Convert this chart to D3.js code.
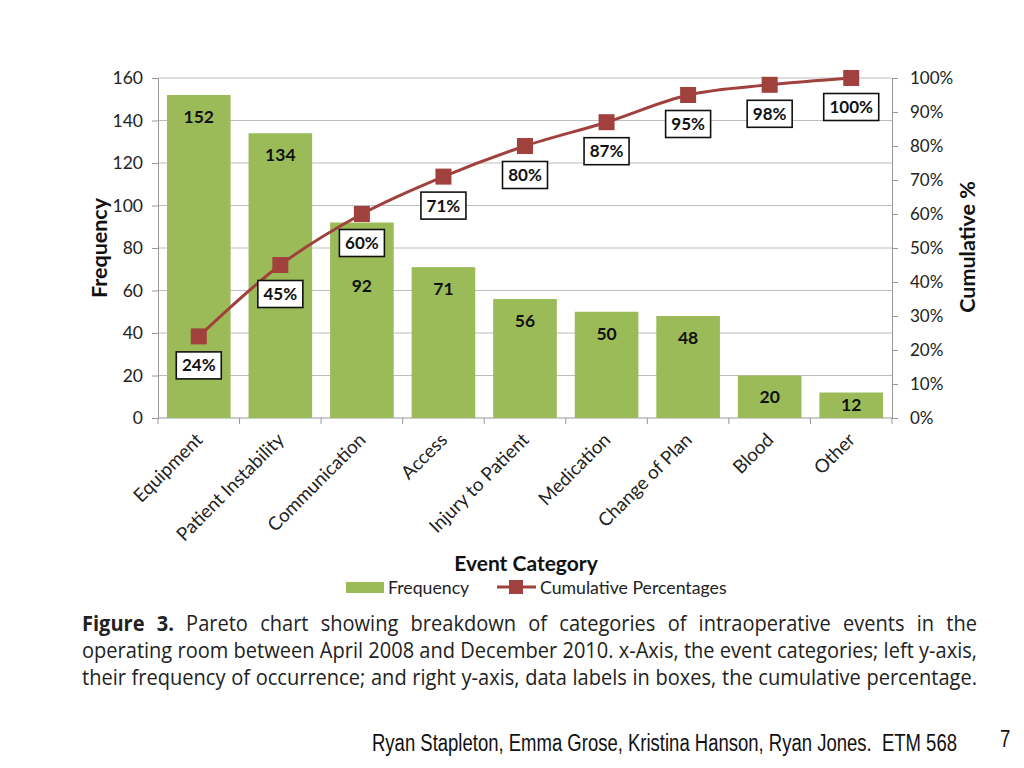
<!DOCTYPE html>
<html><head><meta charset="utf-8">
<script src="https://cdn.jsdelivr.net/npm/d3@7"></script>
<style>
body{margin:0;background:#fff;width:1024px;height:768px;overflow:hidden;}
svg{position:absolute;left:0;top:0;}
</style></head>
<body>
<svg id="c" width="1024" height="768"></svg>
<script>
const categories = ["Equipment","Patient Instability","Communication","Access","Injury to Patient","Medication","Change of Plan","Blood","Other"];
const frequency = [152,134,92,71,56,50,48,20,12];
const cumulative = [24,45,60,71,80,87,95,98,100];
const leftTicks = [0,20,40,60,80,100,120,140,160];
const rightTicks = [0,10,20,30,40,50,60,70,80,90,100];
const captionLines = [
  "Figure 3. Pareto chart showing breakdown of categories of intraoperative events in the",
  "operating room between April 2008 and December 2010. x-Axis, the event categories; left y-axis,",
  "their frequency of occurrence; and right y-axis, data labels in boxes, the cumulative percentage."
];
const footerText = "Ryan Stapleton, Emma Grose, Kristina Hanson, Ryan Jones.  ETM 568";
const pageNumber = "7";

const svg = d3.select("#c");
const L = 158, R = 892, T = 78, B = 418;
const chartFont = "Lato, 'Open Sans', sans-serif";
const x = d3.scaleBand().domain(categories).range([L, R]).paddingInner(0.22).paddingOuter(0.11);
const y = d3.scaleLinear().domain([0,160]).range([B, T]);
const y2 = d3.scaleLinear().domain([0,100]).range([B, T]);
const green = "#9bbb59", red = "#a0413d";

// gridlines
svg.append("g").selectAll("line").data(leftTicks.filter(d=>d>0)).join("line")
  .attr("x1", L).attr("x2", R).attr("y1", d=>y(d)).attr("y2", d=>y(d))
  .attr("stroke", "#bdbdbd").attr("stroke-width", 1.2);

// left axis
const gl = svg.append("g").attr("transform", `translate(${L},0)`)
  .call(d3.axisLeft(y).tickValues(leftTicks).tickSize(6).tickPadding(9));
gl.select(".domain").attr("stroke", "#999");
gl.selectAll(".tick line").attr("stroke", "#999");
gl.selectAll("text").attr("font-family", chartFont).attr("font-size", 17.5).attr("fill", "#222");

// right axis
const gr = svg.append("g").attr("transform", `translate(${R},0)`)
  .call(d3.axisRight(y2).tickValues(rightTicks).tickSize(6).tickPadding(12).tickFormat(d=>d+"%"));
gr.select(".domain").attr("stroke", "#999");
gr.selectAll(".tick line").attr("stroke", "#999");
gr.selectAll("text").attr("font-family", chartFont).attr("font-size", 17).attr("fill", "#222");

// bottom axis (ticks between categories)
const bounds = d3.range(categories.length + 1).map(i => L + i * (R - L) / categories.length);
svg.append("line").attr("x1", L).attr("x2", R).attr("y1", B).attr("y2", B).attr("stroke", "#999").attr("stroke-width", 1.2);
svg.append("g").selectAll("line").data(bounds).join("line")
  .attr("x1", d=>d).attr("x2", d=>d).attr("y1", B).attr("y2", B+6).attr("stroke", "#999");

// bars
svg.append("g").selectAll("rect").data(frequency).join("rect")
  .attr("x", (d,i)=>x(categories[i])).attr("width", x.bandwidth())
  .attr("y", d=>y(d)).attr("height", d=>B - y(d)).attr("fill", green);

// x labels
svg.append("g").selectAll("text").data(categories).join("text")
  .attr("transform", d=>`translate(${x(d)+x.bandwidth()/2+5},${B+23}) rotate(-45)`)
  .attr("text-anchor", "end").attr("font-family", chartFont).attr("font-size", 18.7).attr("fill", "#222")
  .text(d=>d);

// line
const cx = (i)=> x(categories[i]) + x.bandwidth()/2;
svg.append("path").datum(cumulative)
  .attr("d", d3.line().x((d,i)=>cx(i)).y(d=>y2(d)).curve(d3.curveMonotoneX))
  .attr("fill", "none").attr("stroke", red).attr("stroke-width", 3);
svg.append("g").selectAll("rect").data(cumulative).join("rect")
  .attr("x", (d,i)=>cx(i)-8).attr("y", d=>y2(d)-8).attr("width", 16).attr("height", 16).attr("fill", red);

// cumulative boxes
const boxes = [];
const bg = svg.append("g");
cumulative.forEach((d,i)=>{
  const t = d + "%";
  const w = t.length > 3 ? 55 : 45, h = 27;
  const bx = cx(i) - w/2, by = y2(d) + 29 - h/2;
  boxes.push({x0: bx, x1: bx + w, y0: by, y1: by + h});
  bg.append("rect").attr("x", bx).attr("y", by).attr("width", w).attr("height", h)
    .attr("fill", "#fff").attr("stroke", "#111").attr("stroke-width", 1.6);
  bg.append("text").attr("x", cx(i)).attr("y", by + h/2 + 6).attr("text-anchor", "middle")
    .attr("font-family", chartFont).attr("font-weight", "bold").attr("font-size", 17).attr("fill", "#111").text(t);
});

// bar value labels
svg.append("g").selectAll("text").data(frequency).join("text")
  .attr("x", (d,i)=>cx(i))
  .attr("y", (d,i)=>{
    let c = Math.min(y(d) + 22, (y(d) + B)/2);
    const b = boxes[i];
    if (c + 8 > b.y0 && c - 8 < b.y1) c = b.y1 + 29;
    return c + 6;
  })
  .attr("text-anchor", "middle").attr("font-family", chartFont).attr("font-weight", "bold")
  .attr("font-size", 17.5).attr("fill", "#111").text(d=>d);

// axis titles
svg.append("text").attr("transform", `translate(107,248) rotate(-90)`).attr("text-anchor", "middle")
  .attr("font-family", chartFont).attr("font-weight", "bold").attr("font-size", 21.5).attr("fill", "#111").text("Frequency");
svg.append("text").attr("transform", `translate(975,247) rotate(-90)`).attr("text-anchor", "middle")
  .attr("font-family", chartFont).attr("font-weight", "bold").attr("font-size", 21.5).attr("fill", "#111").text("Cumulative %");
svg.append("text").attr("x", 526).attr("y", 571).attr("text-anchor", "middle")
  .attr("font-family", chartFont).attr("font-weight", "bold").attr("font-size", 21).attr("fill", "#111").text("Event Category");

// legend
const lg = svg.append("g");
lg.append("rect").attr("x", 346).attr("y", 582).attr("width", 38).attr("height", 11).attr("fill", green);
lg.append("text").attr("x", 388).attr("y", 594).attr("font-family", chartFont).attr("font-size", 17.7).attr("fill", "#222").text("Frequency");
lg.append("line").attr("x1", 497).attr("x2", 536).attr("y1", 587).attr("y2", 587).attr("stroke", red).attr("stroke-width", 3);
lg.append("rect").attr("x", 509).attr("y", 580).attr("width", 14).attr("height", 14).attr("fill", red);
lg.append("text").attr("x", 540).attr("y", 594).attr("font-family", chartFont).attr("font-size", 17.7).attr("fill", "#222").text("Cumulative Percentages");

// caption: justified lines with a horizontally condensed font
const capFont = "'Open Sans', sans-serif", capSize = 21, capLeft = 82, capWidth = 895;
const capBase = [631, 658, 685];
const measure = (t, bold) => {
  const n = svg.append("text").attr("font-family", capFont).attr("font-size", capSize)
    .attr("font-weight", bold ? "bold" : "normal").text(t);
  const w = n.node().getComputedTextLength(); n.remove(); return w;
};
const spaceW = measure("a a") - measure("aa");
const natural = captionLines[1].split(" ").reduce((s,w)=>s+measure(w,false),0) + spaceW * (captionLines[1].split(" ").length - 1);
const k = capWidth / natural;
captionLines.forEach((line, li) => {
  const words = line.split(" ").map((w, wi) => ({t: w, bold: li === 0 && wi < 2}));
  words.forEach(w => w.w = measure(w.t, w.bold));
  const total = d3.sum(words, w=>w.w);
  const gap = (capWidth / k - total) / (words.length - 1);
  const g = svg.append("g").attr("transform", `translate(${capLeft},${capBase[li]}) scale(${k},1)`);
  let cxp = 0;
  words.forEach(w => {
    g.append("text").attr("x", cxp).attr("y", 0).attr("font-family", capFont).attr("font-size", capSize)
      .attr("font-weight", w.bold ? "bold" : "normal").attr("fill", "#222").text(w.t);
    cxp += w.w + gap;
  });
});

// footer
svg.append("text").attr("transform", "translate(372,751) scale(1,1.25)").attr("font-family", "'Liberation Sans', Arial, sans-serif")
  .attr("font-size", 18.5).attr("fill", "#111").style("white-space", "pre").text(footerText);
svg.append("text").attr("transform", "translate(1000,747) scale(1,1.25)").attr("font-family", "'Liberation Sans', Arial, sans-serif")
  .attr("font-size", 18.5).attr("fill", "#111").text(pageNumber);
</script>
</body></html>
